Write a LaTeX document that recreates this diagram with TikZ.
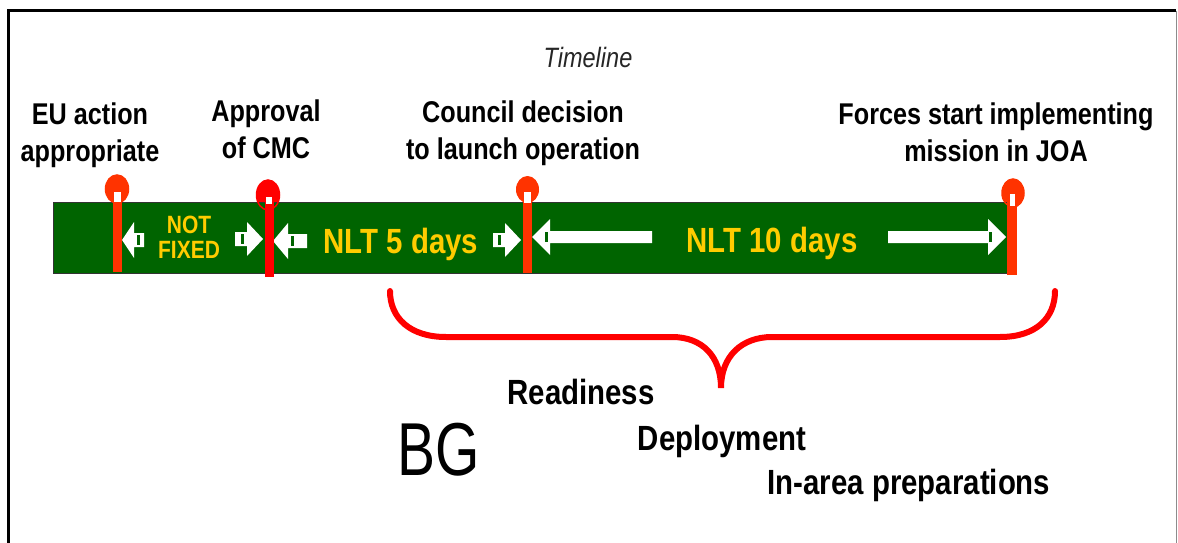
\documentclass[tikz,border=0pt]{standalone}
\usepackage{fontspec}
\setmainfont[FakeStretch=0.84]{Liberation Sans}
\newfontfamily\bgfont[FakeStretch=0.76]{Liberation Sans}
\usetikzlibrary{positioning}
\definecolor{bargreen}{RGB}{0,100,0}
\definecolor{baryellow}{RGB}{255,204,0}
\definecolor{pinorange}{RGB}{255,51,0}
\definecolor{pinred}{RGB}{255,0,0}

\begin{document}
\begin{tikzpicture}[x=1pt, y=-1pt,
            titlenode/.style={align=center, inner sep=0pt, anchor=north, font=\fontsize{30}{37}\selectfont\bfseries},
            bartext/.style={inner sep=0pt, anchor=base, text=baryellow, font=\fontsize{35}{40}\selectfont\bfseries},
            phasetext/.style={inner sep=0pt, anchor=base, font=\fontsize{35}{40}\selectfont\bfseries},
            whitearrow/.style={fill=white},
            notch/.style={fill=bargreen},
            pinstem/.style={line width=9pt},
            pinhole/.style={fill=white},
            ]
            \useasboundingbox (0,0) rectangle (1178,543);
            % frame
            \draw[line width=3pt] (8,543) -- (8,11) -- (1176,11);
            \draw[line width=1pt, black!45] (1176,11) -- (1176,543);

            % pin heads (behind the bar)
            \fill[pinorange] (117,189) ellipse [x radius=11.5, y radius=14];
            \fill[pinred] (268,195) ellipse [x radius=11.5, y radius=15];
            \fill[pinorange] (527.5,189.5) ellipse [x radius=11.5, y radius=13.5];
            \fill[pinorange] (1013,193) ellipse [x radius=11, y radius=14];

            % timeline bar
            \filldraw[fill=bargreen, draw=black!80, line width=1pt] (53,202) rectangle (1010,273);
            \draw[pinorange, line width=1.5pt] (117,189) ellipse [x radius=11.5, y radius=14];
            \draw[pinred, line width=1.5pt] (268,195) ellipse [x radius=11.5, y radius=15];
            \draw[pinorange, line width=1.5pt] (1013,193) ellipse [x radius=11, y radius=14];

            % arrows
            \fill[whitearrow] (144,233) -- (134,233) -- (134,222) -- (122,240) -- (134,258) -- (134,247) -- (144,247) -- cycle;
            \fill[notch] (137,235) rectangle (140,245);
            \fill[whitearrow] (235,232) -- (247,232) -- (247,222) -- (263,239) -- (247,256) -- (247,246) -- (235,246) -- cycle;
            \fill[notch] (241,234) rectangle (244,244);
            \fill[whitearrow] (307,234) -- (288,234) -- (288,223) -- (273,241) -- (288,259) -- (288,248) -- (307,248) -- cycle;
            \fill[notch] (291,236) rectangle (294,246);
            \fill[whitearrow] (493,233) -- (505,233) -- (505,223) -- (521,240) -- (505,257) -- (505,247) -- (493,247) -- cycle;
            \fill[notch] (498,235) rectangle (501,245);
            \fill[whitearrow] (652,231) -- (550,231) -- (550,219) -- (532,237) -- (550,255) -- (550,243) -- (652,243) -- cycle;
            \fill[notch] (545,232) rectangle (548,242);
            \fill[whitearrow] (888,231) -- (988,231) -- (988,219) -- (1006,237) -- (988,255) -- (988,243) -- (888,243) -- cycle;
            \fill[notch] (989,232) rectangle (992,242);

            % pin stems
            \draw[pinstem, pinorange] (117,195) -- (117,272);
            \draw[pinstem, pinred] (269,200) -- (269,277);
            \draw[pinstem, pinorange] (527.5,195) -- (527.5,273);
            \draw[pinstem, line width=10pt, pinorange] (1012,198) -- (1012,275);
            \fill[pinhole] (113.5,192) rectangle (120.5,202);
            \fill[pinhole] (266,197) rectangle (272,204);
            \fill[pinhole] (524,192) rectangle (531,203);
            \fill[pinhole] (1010,194) rectangle (1015,206);

            % labels
            \node[inner sep=0pt, anchor=north, text=black!85, font=\fontsize{28}{32}\selectfont\itshape] (timeline) at (588,47) {Timeline};
            \node[titlenode] (euaction) at (90,103) {EU action\\appropriate};
            \node[titlenode] (approval) at (266,100) {Approval\\of CMC};
            \node[titlenode] (council) at (523,101) {Council decision\\to launch operation};
            \node[titlenode] (forces) at (996,103) {Forces start implementing\\mission in JOA};

            \node[inner sep=0pt, align=center, text=baryellow, font=\fontsize{25}{25}\selectfont\bfseries] (notfixed) at (189,237) {NOT\\FIXED};
            \node[bartext] (nlt5) at (401,253) {NLT 5 days};
            \node[bartext] (nlt10) at (772,252) {NLT 10 days};

            % brace
            \draw[pinred, line width=6pt, line cap=round]
                (390,291) .. controls (390,318) and (410,337) .. (446,337)
                -- (672,337) .. controls (702,337) and (721,356) .. (721,388)
                .. controls (721,356) and (742,337) .. (772,337)
                -- (1000,337) .. controls (1036,337) and (1055,318) .. (1055,291);

            \node[phasetext] (readiness) at (581,404) {Readiness};
            \node[inner sep=0pt, anchor=base, font=\fontsize{75}{80}\bgfont] (bg) at (439,475) {BG};
            \node[phasetext] (deployment) at (722,450) {Deployment};
            \node[phasetext] (inarea) at (909,494) {In-area preparations};
        \end{tikzpicture}
\end{document}
